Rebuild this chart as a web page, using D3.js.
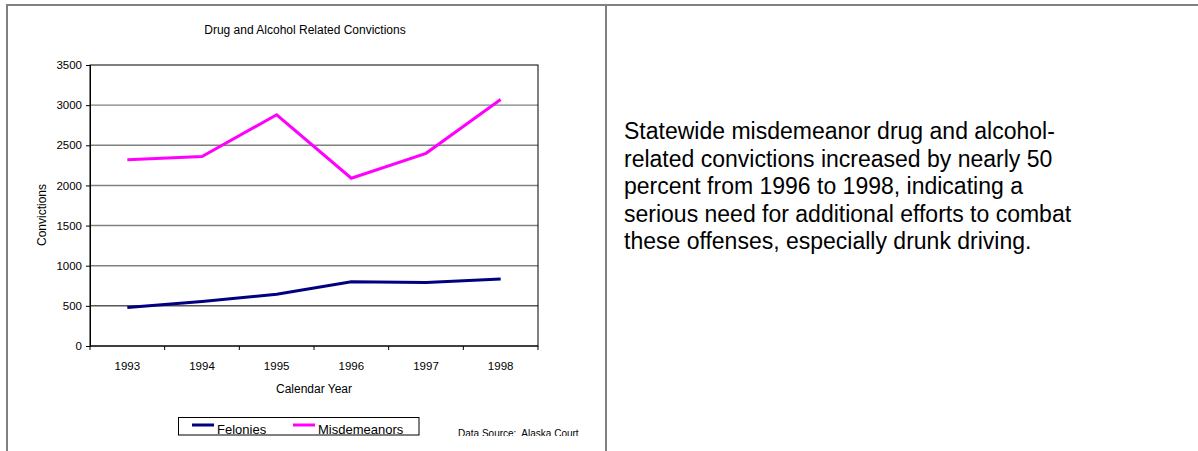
<!DOCTYPE html>
<html>
<head>
<meta charset="utf-8">
<script src="https://cdn.jsdelivr.net/npm/d3@7"></script>
<style>
  html, body { margin: 0; padding: 0; background: #fff; }
  svg { display: block; font-family: "Liberation Sans", Arial, sans-serif; }
</style>
</head>
<body>
<svg id="page" width="1198" height="451"></svg>
<script>
// Convictions by calendar year
const years = ["1993", "1994", "1995", "1996", "1997", "1998"];
const felonies = [480, 555, 645, 800, 790, 835];
const misdemeanors = [2320, 2360, 2880, 2090, 2400, 3070];
const yTicks = [0, 500, 1000, 1500, 2000, 2500, 3000, 3500];
const seriesNames = ["Felonies", "Misdemeanors"];
const seriesColors = ["#000080", "#FF00FF"];
const noteLines = [
  "Statewide misdemeanor drug and alcohol-",
  "related convictions increased by nearly 50",
  "percent from 1996 to 1998, indicating a",
  "serious need for additional efforts to combat",
  "these offenses, especially drunk driving."
];

const svg = d3.select("#page");
svg.append("rect").attr("width", 1198).attr("height", 451).attr("fill", "#fff");

// table cell borders
const border = svg.append("g").attr("stroke", "#808080").attr("stroke-width", 2);
border.append("line").attr("x1", 6).attr("x2", 1198).attr("y1", 5).attr("y2", 5);
border.append("line").attr("x1", 7).attr("x2", 7).attr("y1", 4).attr("y2", 451);
border.append("line").attr("x1", 606).attr("x2", 606).attr("y1", 4).attr("y2", 451);

// chart cell, clipped at its bottom edge
svg.append("clipPath").attr("id", "cell").append("rect")
  .attr("x", 8).attr("y", 6).attr("width", 597).attr("height", 430);
const chart = svg.append("g").attr("clip-path", "url(#cell)");

const plot = { left: 90, right: 538, top: 65, bottom: 346 };
const x = d3.scaleBand().domain(years).range([plot.left, plot.right]).padding(0);
const y = d3.scaleLinear().domain([0, 3500]).range([plot.bottom, plot.top]);

chart.append("text")
  .attr("x", 305).attr("y", 34)
  .attr("text-anchor", "middle").attr("font-size", 12).attr("fill", "#000")
  .text("Drug and Alcohol Related Convictions");

// horizontal gridlines
chart.append("g").selectAll("line")
  .data(yTicks.filter(v => v > 0 && v < 3500))
  .join("line")
  .attr("x1", plot.left).attr("x2", plot.right)
  .attr("y1", d => y(d)).attr("y2", d => y(d))
  .attr("stroke", d => d === 500 ? "#000" : "#808080")
  .attr("stroke-width", d => d === 500 ? 1 : 1.4);

// plot frame
chart.append("rect")
  .attr("x", plot.left).attr("y", plot.top)
  .attr("width", plot.right - plot.left).attr("height", plot.bottom - plot.top)
  .attr("fill", "none").attr("stroke", "#000").attr("stroke-width", 1);

// y axis
const yAxis = chart.append("g")
  .attr("transform", `translate(${plot.left},0)`)
  .call(d3.axisLeft(y).tickValues(yTicks).tickSize(4).tickPadding(4).tickFormat(d3.format("d")));
yAxis.select(".domain").attr("stroke", "#000");
yAxis.selectAll("line").attr("stroke", "#000");
yAxis.selectAll("text").attr("font-size", 11.5).attr("font-family", "Liberation Sans, Arial, sans-serif").attr("fill", "#000");

// x axis: ticks sit between categories
const xAxis = chart.append("g")
  .attr("transform", `translate(0,${plot.bottom})`);
xAxis.append("line")
  .attr("x1", plot.left).attr("x2", plot.right)
  .attr("stroke", "#000");
const edges = years.map(d => x(d)).concat([x(years[years.length - 1]) + x.bandwidth()]);
xAxis.selectAll("line.tick")
  .data(edges).join("line").attr("class", "tick")
  .attr("x1", d => d).attr("x2", d => d).attr("y1", 0).attr("y2", 4)
  .attr("stroke", "#000");
xAxis.selectAll("text")
  .data(years).join("text")
  .attr("x", d => x(d) + x.bandwidth() / 2).attr("y", 24)
  .attr("text-anchor", "middle").attr("font-size", 11.5).attr("fill", "#000")
  .text(d => d);

chart.append("text")
  .attr("x", 314).attr("y", 393)
  .attr("text-anchor", "middle").attr("font-size", 12).attr("fill", "#000")
  .text("Calendar Year");

chart.append("text")
  .attr("transform", "translate(46,215) rotate(-90)")
  .attr("text-anchor", "middle").attr("font-size", 12).attr("fill", "#000")
  .text("Convictions");

// series lines
const line = d3.line()
  .x((d, i) => x(years[i]) + x.bandwidth() / 2)
  .y(d => y(d));
[felonies, misdemeanors].forEach((vals, i) => {
  chart.append("path")
    .datum(vals)
    .attr("d", line)
    .attr("fill", "none")
    .attr("stroke", seriesColors[i])
    .attr("stroke-width", 3)
    .attr("stroke-linejoin", "miter");
});

// legend
const legend = chart.append("g");
legend.append("rect")
  .attr("x", 178.5).attr("y", 417.5).attr("width", 240.5).attr("height", 17.5)
  .attr("fill", "#fff").attr("stroke", "#000").attr("stroke-width", 1);
const legendX = [192, 293];
seriesNames.forEach((name, i) => {
  legend.append("line")
    .attr("x1", legendX[i]).attr("x2", legendX[i] + 22)
    .attr("y1", 425).attr("y2", 425)
    .attr("stroke", seriesColors[i]).attr("stroke-width", 3);
  legend.append("text")
    .attr("x", legendX[i] + 25).attr("y", 433.5)
    .attr("font-size", 13).attr("fill", "#000")
    .text(name);
});

chart.append("text")
  .attr("x", 458).attr("y", 437)
  .attr("font-size", 10).attr("fill", "#000")
  .style("white-space", "pre")
  .text("Data Source:  Alaska Court");

// explanatory note
const note = svg.append("text")
  .attr("x", 624).attr("y", 139)
  .attr("font-size", 23).attr("fill", "#000");
note.selectAll("tspan")
  .data(noteLines).join("tspan")
  .attr("x", 624)
  .attr("dy", (d, i) => i === 0 ? 0 : 27.5)
  .text(d => d);
</script>
</body>
</html>
